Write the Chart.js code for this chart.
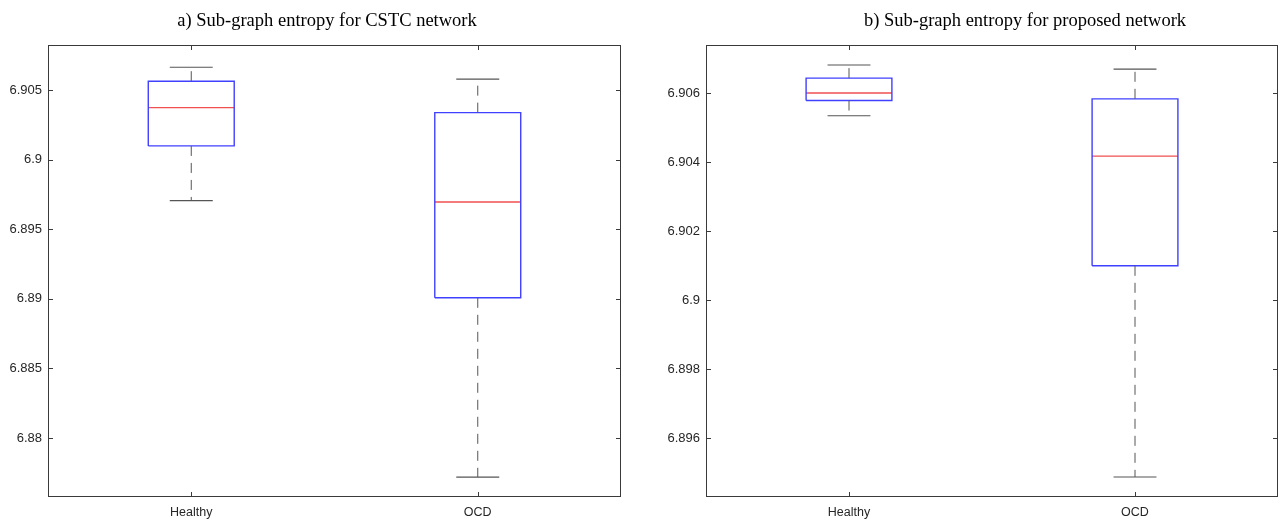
<!DOCTYPE html>
<html>
<head>
<meta charset="utf-8">
<title>Sub-graph entropy box plots</title>
<script src="https://cdn.jsdelivr.net/npm/chart.js@4.4.0/dist/chart.umd.min.js"></script>
<style>
    html, body { margin: 0; padding: 0; background: #ffffff; }
    .panel { position: absolute; top: 0; height: 521px; }
    #leftPanel { left: 0; width: 640px; }
    #rightPanel { left: 640px; width: 639px; }
    .plotTitle {
        position: absolute; top: 10px; transform: translateX(-50%);
        font-family: "Liberation Serif", "Times New Roman", serif;
        font-size: 18.5px; line-height: 20px; color: #000; white-space: nowrap;
    }
    #leftTitle { left: 327px; }
    #rightTitle { left: 1025px; }
</style>
</head>
<body>
<div class="panel" id="leftPanel"><canvas id="cstcChart"></canvas></div>
<div class="panel" id="rightPanel"><canvas id="proposedChart"></canvas></div>
<div class="plotTitle" id="leftTitle">a) Sub-graph entropy for CSTC network</div>
<div class="plotTitle" id="rightTitle">b) Sub-graph entropy for proposed network</div>
<script>
// Groups on the x axis
const categories = ['Healthy', 'OCD'];

// a) CSTC network - box plot statistics per group
const cstcWhiskerHigh = [6.90663, 6.90578];
const cstcQ3 = [6.90563, 6.90337];
const cstcMedian = [6.90373, 6.89695];
const cstcQ1 = [6.90098, 6.89007];
const cstcWhiskerLow = [6.89705, 6.87719];
const cstcTicks = [6.88, 6.885, 6.89, 6.895, 6.9, 6.905];
const cstcTickLabels = ['6.88', '6.885', '6.89', '6.895', '6.9', '6.905'];

// b) proposed network - box plot statistics per group
const propWhiskerHigh = [6.90681, 6.90669];
const propQ3 = [6.90643, 6.90583];
const propMedian = [6.90600, 6.90417];
const propQ1 = [6.90578, 6.90099];
const propWhiskerLow = [6.90534, 6.89487];
const propTicks = [6.896, 6.898, 6.9, 6.902, 6.904, 6.906];
const propTickLabels = ['6.896', '6.898', '6.9', '6.902', '6.904', '6.906'];

const BOX_HALF = 0.15;   // half box width, in x units
const CAP_HALF = 0.075;  // half whisker cap width

// Build line segments (separated by null points) for each part of the box plot
function boxPoints(q1, q3) {
    const pts = [];
    q1.forEach((lo, i) => {
        const c = i + 1;
        pts.push({ x: c - BOX_HALF, y: lo }, { x: c + BOX_HALF, y: lo },
                 { x: c + BOX_HALF, y: q3[i] }, { x: c - BOX_HALF, y: q3[i] },
                 { x: c - BOX_HALF, y: lo }, { x: c, y: null });
    });
    return pts;
}

function hLines(values, half) {
    const pts = [];
    values.forEach((v, i) => {
        const c = i + 1;
        pts.push({ x: c - half, y: v }, { x: c + half, y: v }, { x: c, y: null });
    });
    return pts;
}

function whiskerPoints(low, q1, q3, high) {
    const pts = [];
    low.forEach((lo, i) => {
        const c = i + 1;
        pts.push({ x: c, y: q3[i] }, { x: c, y: high[i] }, { x: c, y: null });
        pts.push({ x: c, y: q1[i] }, { x: c, y: lo }, { x: c, y: null });
    });
    return pts;
}

// Draws the closed axes box with inward tick marks, like MATLAB
const framePlugin = {
    id: 'matlabFrame',
    afterDraw(chart) {
        const { ctx, chartArea: a, scales } = chart;
        const tick = 5;
        ctx.save();
        ctx.strokeStyle = '#3a3a3a';
        ctx.lineWidth = 1;
        ctx.strokeRect(Math.round(a.left) + 0.5, Math.round(a.top) + 0.5,
                       Math.round(a.right - a.left) - 1, Math.round(a.bottom - a.top) - 1);
        ctx.beginPath();
        scales.y.ticks.forEach(t => {
            const y = Math.round(scales.y.getPixelForValue(t.value)) + 0.5;
            ctx.moveTo(a.left, y); ctx.lineTo(a.left + tick, y);
            ctx.moveTo(a.right, y); ctx.lineTo(a.right - tick, y);
        });
        scales.x.ticks.forEach(t => {
            const x = Math.round(scales.x.getPixelForValue(t.value)) + 0.5;
            ctx.moveTo(x, a.top); ctx.lineTo(x, a.top + tick);
            ctx.moveTo(x, a.bottom); ctx.lineTo(x, a.bottom - tick);
        });
        ctx.stroke();
        ctx.restore();
    }
};

function createBoxChart(canvasId, opts) {
    const lineBase = { showLine: true, pointRadius: 0, spanGaps: false, fill: false, borderJoinStyle: 'miter' };
    return new Chart(document.getElementById(canvasId), {
        type: 'scatter',
        data: {
            datasets: [
                { ...lineBase, label: 'whiskers', data: whiskerPoints(opts.low, opts.q1, opts.q3, opts.high),
                  borderColor: '#555555', borderWidth: 1, borderDash: [10, 7] },
                { ...lineBase, label: 'caps', data: hLines(opts.high, CAP_HALF).concat(hLines(opts.low, CAP_HALF)),
                  borderColor: '#555555', borderWidth: 1.2 },
                { ...lineBase, label: 'box', data: boxPoints(opts.q1, opts.q3),
                  borderColor: '#4040ff', borderWidth: 1.4 },
                { ...lineBase, label: 'median', data: hLines(opts.median, BOX_HALF),
                  borderColor: '#f05050', borderWidth: 1.4 }
            ]
        },
        options: {
            responsive: true,
            maintainAspectRatio: false,
            animation: false,
            devicePixelRatio: 1,
            layout: { padding: { left: 0, right: opts.padRight, top: 45, bottom: 0 } },
            plugins: {
                legend: { display: false },
                tooltip: { enabled: false },
                title: { display: false }
            },
            scales: {
                x: {
                    type: 'linear',
                    min: 0.5,
                    max: categories.length + 0.5,
                    grid: { display: false, drawTicks: false },
                    border: { display: false },
                    afterBuildTicks: scale => {
                        scale.ticks = categories.map((c, i) => ({ value: i + 1 }));
                    },
                    afterFit: scale => { scale.height = 24; },
                    ticks: {
                        autoSkip: false,
                        maxRotation: 0,
                        padding: 8,
                        color: '#262626',
                        font: { family: '"Liberation Sans", Arial, sans-serif', size: 12.5 },
                        callback: value => categories[value - 1]
                    }
                },
                y: {
                    min: opts.yMin,
                    max: opts.yMax,
                    grid: { display: false, drawTicks: false },
                    border: { display: false },
                    afterBuildTicks: scale => {
                        scale.ticks = opts.ticks.map(v => ({ value: v }));
                    },
                    afterFit: scale => { scale.width = opts.axisWidth; },
                    ticks: {
                        padding: 6,
                        color: '#262626',
                        font: { family: '"Liberation Sans", Arial, sans-serif', size: 13 },
                        callback: value => opts.tickLabels[opts.ticks.indexOf(value)]
                    }
                }
            }
        },
        plugins: [framePlugin]
    });
}

createBoxChart('cstcChart', {
    high: cstcWhiskerHigh, q3: cstcQ3, median: cstcMedian, q1: cstcQ1, low: cstcWhiskerLow,
    ticks: cstcTicks, tickLabels: cstcTickLabels,
    yMin: 6.87576, yMax: 6.90823,
    axisWidth: 48, padRight: 19
});

createBoxChart('proposedChart', {
    high: propWhiskerHigh, q3: propQ3, median: propMedian, q1: propQ1, low: propWhiskerLow,
    ticks: propTicks, tickLabels: propTickLabels,
    yMin: 6.89429, yMax: 6.90739,
    axisWidth: 66, padRight: 1
});
</script>
</body>
</html>
